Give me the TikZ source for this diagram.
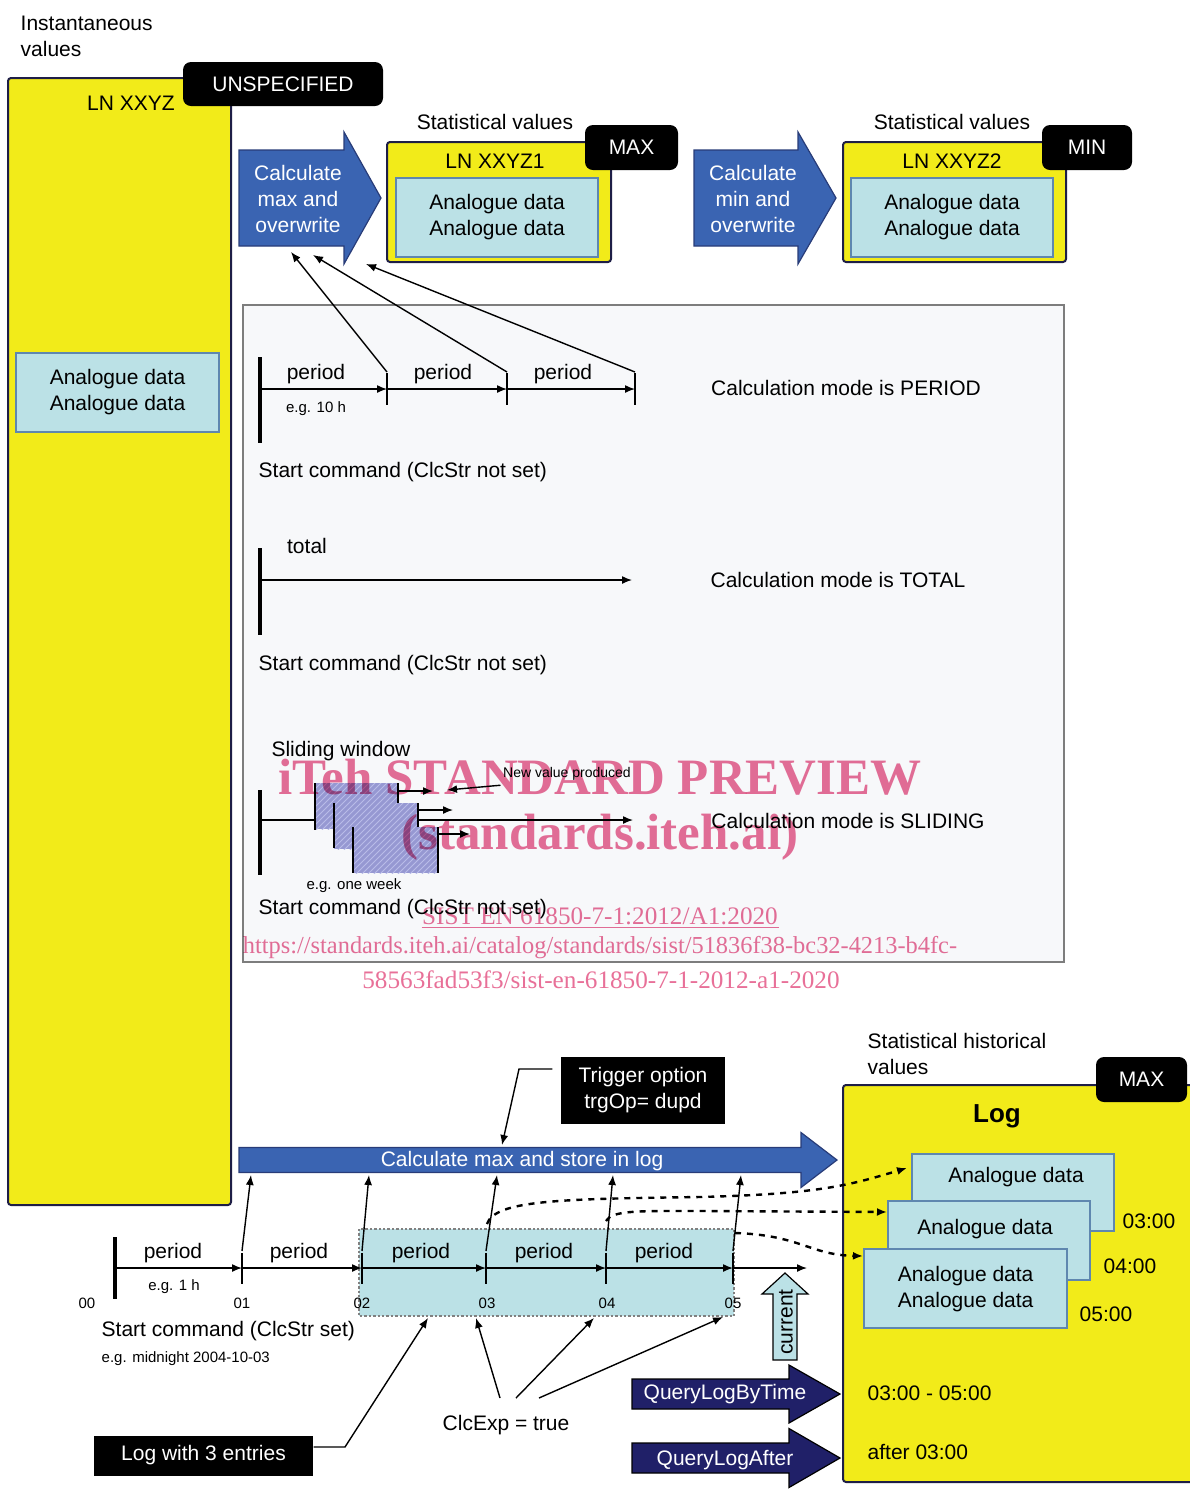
\documentclass[tikz,border=0pt]{standalone}
\usepackage{fontspec}
\setmainfont{Liberation Sans}
\newfontfamily\wmfont{Liberation Serif}
\usepackage{xcolor}
\usepackage{tikz}
\usetikzlibrary{arrows.meta,patterns}

\definecolor{lnyellow}{RGB}{242,235,25}
\definecolor{lnborder}{RGB}{30,30,70}
\definecolor{datablue}{RGB}{187,225,230}
\definecolor{databorder}{RGB}{95,135,175}
\definecolor{calcblue}{RGB}{58,100,178}
\definecolor{calcborder}{RGB}{40,60,120}
\definecolor{querynavy}{RGB}{32,32,104}
\definecolor{panelgray}{RGB}{247,248,250}
\definecolor{panelborder}{RGB}{125,125,125}
\definecolor{hatchblue}{RGB}{150,152,210}
\definecolor{hatchline}{RGB}{185,188,232}
\definecolor{wmpink}{RGB}{232,112,152}

% block arrow: style, x left, x head base, x tip, y centre, half body, half head
\newcommand{\blockarrow}[7]{%
  \path[#1] (#2,{#5-#6}) -- (#3,{#5-#6}) -- (#3,{#5-#7}) -- (#4,#5)
    -- (#3,{#5+#7}) -- (#3,{#5+#6}) -- (#2,{#5+#6}) -- cycle;}

\tikzset{
  txt/.style={font=\fontsize{10.5}{13}\selectfont,inner sep=0pt,align=center},
  smalltxt/.style={font=\fontsize{7.5}{9}\selectfont,inner sep=0pt},
  lnbox/.style={draw=lnborder,fill=lnyellow,line width=1pt,rounded corners=1.5pt},
  databox/.style={txt,draw=databorder,fill=datablue,line width=1.2pt},
  tagbox/.style={txt,fill=black,text=white,rounded corners=4pt},
  blackbox/.style={txt,fill=black,text=white},
  calcarrow/.style={fill=calcblue,draw=calcborder,line width=0.6pt},
  queryarrow/.style={fill=querynavy,draw=black,line width=0.6pt},
  startbar/.style={line width=2.3pt},
  tickbar/.style={line width=1.3pt},
  logline/.style={dashed,line width=1.2pt,->},
  hatch/.style={fill=hatchblue,postaction={pattern=north east lines,pattern color=hatchline}},
  wmbig/.style={font=\wmfont\bfseries\fontsize{25.5}{28}\selectfont,text=wmpink,inner sep=0pt},
  wmsmall/.style={font=\wmfont\fontsize{12.6}{14}\selectfont,text=wmpink,inner sep=0pt}
}

\begin{document}
\begin{tikzpicture}[x=0.5pt,y=-0.5pt,>={Latex[length=5pt,width=4pt]},line width=0.7pt]
  \useasboundingbox (0,0) rectangle (1190,1512);

  % Instantaneous values
  \node[txt,anchor=west,align=left] (instlbl) at (20,36) {Instantaneous\\values};
  \draw[lnbox] (8,78) rectangle (231,1205);
  \node[txt] (lnxxyz) at (131,103) {LN XXYZ};
  \node[tagbox,minimum width=100pt,minimum height=22pt] (unspec) at (283,84) {UNSPECIFIED};
  \node[databox,minimum width=101.5pt,minimum height=39.5pt] (instdata) at (117.5,392.5)
    {Analogue data\\Analogue data};

  % Statistical values, max
  \blockarrow{calcarrow}{239}{344}{381}{198}{48}{66}
  \node[txt,text=white] (calcmax) at (298,199) {Calculate\\max and\\overwrite};
  \node[txt] (statlbl1) at (495,122) {Statistical values};
  \draw[lnbox] (387,142) rectangle (611,262);
  \node[txt] (lnxxyz1) at (495,161) {LN XXYZ1};
  \node[databox,minimum width=101pt,minimum height=39.5pt] (maxdata) at (497,217.5)
    {Analogue data\\Analogue data};
  \node[tagbox,minimum width=46.5pt,minimum height=22.5pt] (maxtag) at (631.5,147.5) {MAX};

  % Statistical values, min
  \blockarrow{calcarrow}{694}{798}{836}{198}{48}{66}
  \node[txt,text=white] (calcmin) at (753,199) {Calculate\\min and\\overwrite};
  \node[txt] (statlbl2) at (952,122) {Statistical values};
  \draw[lnbox] (843,142) rectangle (1066,262);
  \node[txt] (lnxxyz2) at (952,161) {LN XXYZ2};
  \node[databox,minimum width=101pt,minimum height=39.5pt] (mindata) at (952,217.5)
    {Analogue data\\Analogue data};
  \node[tagbox,minimum width=45pt,minimum height=22.5pt] (mintag) at (1087,147.5) {MIN};

  % Calculation modes panel
  \draw[fill=panelgray,draw=panelborder,line width=0.8pt] (243,305) rectangle (1064,962);

  % PERIOD
  \draw[startbar] (260,357) -- (260,443);
  \foreach \i/\x/\px/\tx/\ty in {1/387/260/291/252,2/507/387/313/255,3/635/507/366/264} {
    \draw[->] (\px,389) -- (\x,389);
    \draw[tickbar] (\x,373) -- (\x,405);
    \coordinate (pt\i) at (\x,372);
    \coordinate (cm\i) at (\tx,\ty);
    \draw[->] (pt\i) -- (cm\i);
  }
  \foreach \x [count=\i] in {316,443,563}
    \node[txt] (per\i) at (\x,374) {period};
  \node[smalltxt] (eg10) at (316,409) {e.g. 10 h};
  \node[txt,anchor=west] (start1) at (258,472) {Start command (ClcStr not set)};
  \node[txt] (mode1) at (846,388) {Calculation mode is PERIOD};

  % TOTAL
  \draw[startbar] (260,548) -- (260,635);
  \coordinate (tot0) at (260,580);
  \coordinate (tot1) at (632,580);
  \draw[->] (tot0) -- (tot1);
  \node[txt] (totlbl) at (307,546) {total};
  \node[txt,anchor=west] (start2) at (258,665) {Start command (ClcStr not set)};
  \node[txt] (mode2) at (838,580) {Calculation mode is TOTAL};

  % SLIDING
  \node[txt] (slidlbl) at (341,751) {Sliding window};
  \draw[startbar] (260,790) -- (260,875);
  \draw (260,820) -- (315,820);
  \foreach \x/\y in {315/783,334/803,353/827}
    \fill[hatch] (\x,\y) rectangle ++(84,46);
  \foreach \x/\ya/\yb in {315/783/830,334/803/848,353/827/873,398/783/803,418/803/827,438/827/873}
    \draw[tickbar] (\x,\ya) -- (\x,\yb);
  \draw[->] (398,791) -- (433,791);
  \draw[->] (418,810) -- (453,810);
  \draw[->] (418,820) -- (633,820);
  \draw[->] (438,834) -- (470,834);
  \node[font=\fontsize{7}{8}\selectfont,inner sep=0pt] (newval) at (567,774) {New value produced};
  \coordinate (newtip) at (447,790);
  \draw[->] (newval.south west) ++(-2,4) -- (newtip);
  \node[smalltxt] (egweek) at (354,886) {e.g. one week};
  \node[txt,anchor=west] (start3) at (258,909) {Start command (ClcStr not set)};
  \node[txt] (mode3) at (848,821) {Calculation mode is SLIDING};

  % Statistical historical values
  \node[txt,anchor=west,align=left] (histlbl) at (867,1054) {Statistical historical\\values};
  \draw[lnbox] (843,1085) rectangle (1200,1482);
  \node[tagbox,minimum width=45.5pt,minimum height=22.5pt] (maxtag2) at (1141.5,1079.5) {MAX};
  \node[txt,font=\bfseries\fontsize{13}{15}\selectfont] (loglbl) at (997,1116) {Log};
  \node[databox,minimum width=101pt,minimum height=38.5pt,anchor=north west] (log1) at (911,1153) {};
  \node[txt] (log1txt) at (1016,1177) {Analogue data};
  \node[databox,minimum width=101pt,minimum height=39.5pt,anchor=north west] (log2) at (887,1200) {};
  \node[txt] (log2txt) at (985,1229) {Analogue data};
  \node[databox,minimum width=101.5pt,minimum height=39.5pt,anchor=north west] (log3) at (863,1248)
    {Analogue data\\Analogue data};
  \node[txt] (t3) at (1149,1221) {03:00};
  \node[txt] (t4) at (1130,1266) {04:00};
  \node[txt] (t5) at (1106,1314) {05:00};
  \node[txt,anchor=west] (qtime) at (867,1393) {03:00 - 05:00};
  \node[txt,anchor=west] (qafter) at (867,1452) {after 03:00};

  % Calculate max and store in log
  \blockarrow{calcarrow}{239}{801}{837}{1160}{12.5}{27.5}
  \node[txt,text=white] (storelog) at (522,1161) {Calculate max and store in log};
  \node[blackbox,minimum width=82pt,minimum height=33.5pt] (trigger) at (643,1090.5)
    {Trigger option\\trgOp= dupd};
  \coordinate (trigbend) at (519,1069);
  \coordinate (trigend) at (502,1145);
  \draw[->] (trigger.west |- trigbend) ++(-8,0) -- (trigbend) -- (trigend);

  % timeline with log entries
  \fill[datablue] (359,1229) rectangle (734,1316);
  \draw[densely dotted,draw=gray,line width=1.2pt] (359,1229) rectangle (734,1316);
  \draw[startbar] (115,1237) -- (115,1299);
  \foreach \i/\x/\px/\tx in {1/242/115/251,2/362/242/369,3/486/362/497,4/606/486/613,5/733/606/741} {
    \draw[->] (\px,1268) -- (\x,1268);
    \draw[tickbar] (\x,1253) -- (\x,1284);
    \coordinate (bt\i) at (\x,1251);
    \coordinate (ls\i) at (\tx,1175);
    \draw[->] (bt\i) -- (ls\i);
  }
  \draw[->] (733,1268) -- (807,1268);
  \foreach \x [count=\i] in {173,299,421,544,664}
    \node[txt] (bper\i) at (\x,1253) {period};
  \foreach \x/\h in {87/00,242/01,362/02,487/03,607/04,733/05}
    \node[smalltxt] (hr\h) at (\x,1303) {\h};
  \node[smalltxt] (eg1h) at (174,1287) {e.g. 1 h};
  \node[txt,anchor=west] (start4) at (101,1331) {Start command (ClcStr set)};
  \node[smalltxt,anchor=west] (egmid) at (101,1359) {e.g. midnight 2004-10-03};

  % entries into the log
  \coordinate (in1) at (907,1168);
  \coordinate (in2) at (log2.west |- 700,1212);
  \coordinate (in3) at (log3.west |- 735,1256);
  \draw[logline] (487,1224) .. controls (495,1200) and (560,1199) .. (700,1197)
    .. controls (820,1194) and (850,1185) .. (in1);
  \draw[logline] (606,1221) .. controls (612,1210) and (640,1211) .. (700,1211) -- (in2);
  \draw[logline] (735,1233) .. controls (800,1235) and (810,1255) .. (in3);

  % current
  \draw[fill=datablue,draw=black,line width=0.6pt] (773,1360) -- (773,1294) -- (762,1294) -- (785,1273)
    -- (808,1294) -- (797,1294) -- (797,1360) -- cycle;
  \node[txt,rotate=90] (current) at (786,1322) {current};

  % queries
  \blockarrow{queryarrow}{632}{789}{840}{1394}{15}{29}
  \node[txt,text=white] (qbytime) at (725,1394) {QueryLogByTime};
  \blockarrow{queryarrow}{632}{789}{840}{1458}{15}{29.5}
  \node[txt,text=white] (qlogafter) at (725,1460) {QueryLogAfter};

  % ClcExp and log with 3 entries
  \node[txt] (clcexp) at (506,1425) {ClcExp = true};
  \coordinate (ce1) at (476,1318);
  \coordinate (ce2) at (594,1318);
  \coordinate (ce3) at (723,1317);
  \draw[->] (500,1398) -- (ce1);
  \draw[->] (516,1398) -- (ce2);
  \draw[->] (539,1398) -- (ce3);
  \node[blackbox,minimum width=109.5pt,minimum height=20pt] (log3box) at (203.5,1455.5) {Log with 3 entries};
  \coordinate (l3bend) at (345,1447);
  \coordinate (l3end) at (428,1318);
  \draw[->] (log3box.east |- l3bend) -- (l3bend) -- (l3end);

  % watermark
  \begin{scope}[blend mode=multiply]
    \node[wmbig] (wm1) at (600,777) {iTeh STANDARD PREVIEW};
    \node[wmbig] (wm2) at (600,837) {(standards.iteh.ai)};
    \node[wmsmall] (wm3) at (600,916) {SIST EN 61850-7-1:2012/A1:2020};
    \draw[wmpink,line width=0.6pt] ([yshift=-1.5pt]wm3.base west) -- ([yshift=-1.5pt]wm3.base east);
    \node[wmsmall,font=\wmfont\fontsize{12.2}{14}\selectfont] (wm4) at (600,948)
      {https://standards.iteh.ai/catalog/standards/sist/51836f38-bc32-4213-b4fc-};
    \node[wmsmall] (wm5) at (601,980) {58563fad53f3/sist-en-61850-7-1-2012-a1-2020};
  \end{scope}
\end{tikzpicture}
\end{document}
